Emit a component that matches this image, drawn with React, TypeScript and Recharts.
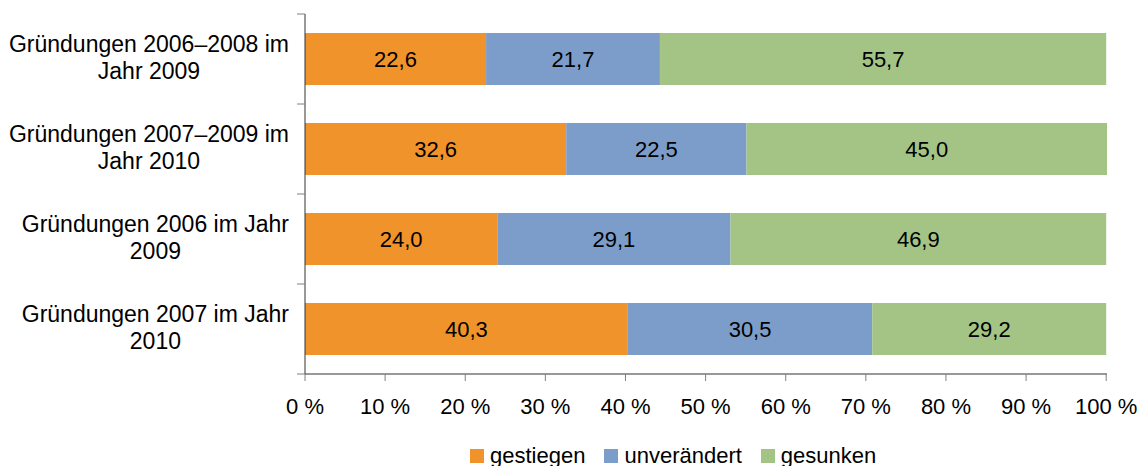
import { BarChart, Bar, XAxis, YAxis, Legend, LabelList } from "recharts";

const categories = [
  "Gründungen 2006–2008 im\nJahr 2009",
  "Gründungen 2007–2009 im\nJahr 2010",
  "Gründungen 2006 im Jahr\n2009",
  "Gründungen 2007 im Jahr\n2010",
];
const gestiegen = [22.6, 32.6, 24.0, 40.3];
const unveraendert = [21.7, 22.5, 29.1, 30.5];
const gesunken = [55.7, 45.0, 46.9, 29.2];
const xTicks = [0, 10, 20, 30, 40, 50, 60, 70, 80, 90, 100];

const series = [
  { key: "gestiegen", name: "gestiegen", color: "#F0932A" },
  { key: "unveraendert", name: "unverändert", color: "#7C9DC9" },
  { key: "gesunken", name: "gesunken", color: "#A4C486" },
];

const data = categories.map((c, i) => ({
  name: c,
  gestiegen: gestiegen[i],
  unveraendert: unveraendert[i],
  gesunken: gesunken[i],
}));

const FONT = "'Liberation Sans', Arial, sans-serif";
const W = 1145;
const H = 466;
const M = { top: 14, right: 38, left: 0, bottom: 52 };
const X_AXIS_H = 40;
const PLOT_H = H - M.top - M.bottom - X_AXIS_H;
const CAT_FS = 23;

let ctx: CanvasRenderingContext2D | null = null;
function textWidth(s: string) {
  if (!ctx) ctx = document.createElement("canvas").getContext("2d");
  if (!ctx) return s.length * 11;
  ctx.font = `${CAT_FS}px ${FONT}`;
  return ctx.measureText(s).width;
}

const fmt = (v: any) => Number(v).toFixed(1).replace(".", ",");

function CategoryTick(props: any) {
  const { x, y, payload, index } = props;
  const lines = String(payload.value).split("\n");
  const maxW = Math.max(...lines.map(textWidth));
  const cx = x - maxW / 2;
  const axisX = x + 16;
  const band = PLOT_H / categories.length;
  return (
    <g>
      <line x1={axisX - 8} x2={axisX} y1={y - band / 2} y2={y - band / 2} stroke="#808080" />
      {index === categories.length - 1 && (
        <line x1={axisX - 8} x2={axisX} y1={y + band / 2} y2={y + band / 2} stroke="#808080" />
      )}
      {lines.map((l, i) => (
        <text key={i} x={cx} y={y - 7 + i * 27} textAnchor="middle" fontSize={CAT_FS} fontFamily={FONT} fill="#000">
          {l}
        </text>
      ))}
    </g>
  );
}

function LegendContent() {
  return (
    <div style={{ display: "flex", alignItems: "center", fontFamily: FONT, fontSize: 22, color: "#000" }}>
      {series.map((s) => (
        <div key={s.key} style={{ display: "flex", alignItems: "center", marginRight: 19 }}>
          <span style={{ width: 14, height: 14, background: s.color, marginRight: 6, display: "inline-block" }} />
          <span>{s.name}</span>
        </div>
      ))}
    </div>
  );
}

export default function App() {
  return (
    <div style={{ width: W, height: H, background: "#fff" }}>
      <style>{`body{margin:0}`}</style>
      <BarChart width={W} height={H} data={data} layout="vertical" margin={M}>
        <XAxis
          type="number"
          domain={[0, 100]}
          ticks={xTicks}
          interval={0}
          tickFormatter={(v) => `${v} %`}
          height={X_AXIS_H}
          tickSize={7}
          tickMargin={17}
          axisLine={{ stroke: "#333" }}
          tickLine={{ stroke: "#808080" }}
          tick={{ fontSize: 22, fontFamily: FONT, fill: "#000" }}
        />
        <YAxis
          type="category"
          dataKey="name"
          width={305}
          tickSize={0}
          tickMargin={16}
          tickLine={false}
          axisLine={{ stroke: "#333" }}
          tick={<CategoryTick />}
          interval={0}
        />
        <Legend
          layout="horizontal"
          verticalAlign="middle"
          align="center"
          content={<LegendContent />}
          wrapperStyle={{ left: 470, top: 443, width: 500 }}
        />
        {series.map((s) => (
          <Bar key={s.key} dataKey={s.key} name={s.name} stackId="a" fill={s.color} barSize={52} isAnimationActive={false}>
            <LabelList dataKey={s.key} position="center" formatter={fmt} fill="#000" fontSize={22} fontFamily={FONT} />
          </Bar>
        ))}
      </BarChart>
    </div>
  );
}
